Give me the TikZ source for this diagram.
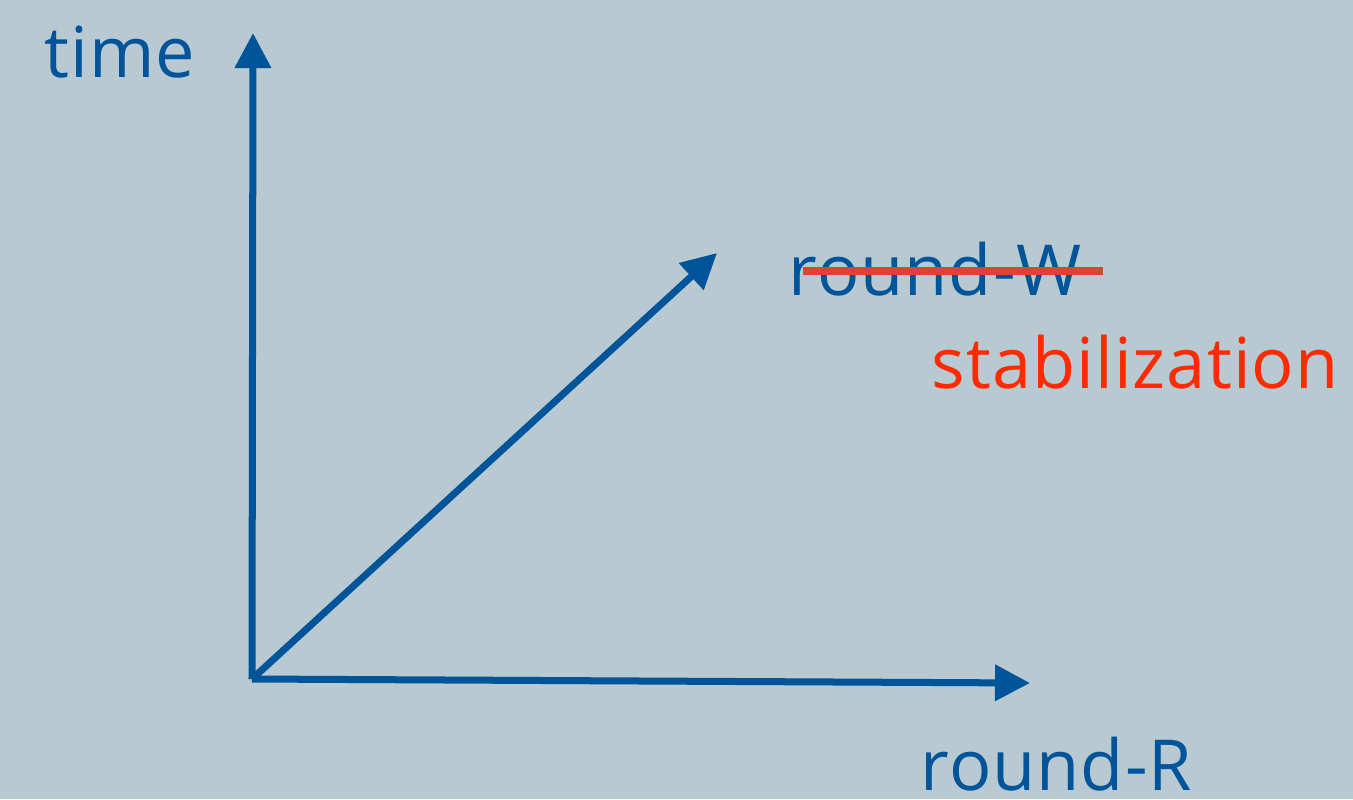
\documentclass[tikz,border=0pt]{standalone}
\usepackage{fontspec}
\setmainfont{Open Sans}[LetterSpace=1.5]
\usetikzlibrary{arrows.meta}
\definecolor{bgc}{HTML}{B8C9D1}
\definecolor{axblue}{HTML}{00559A}
\definecolor{redtxt}{HTML}{FF2A00}
\definecolor{strike}{HTML}{DB4433}
\begin{document}
\begin{tikzpicture}[x=0.01cm,y=-0.01cm,
  axis/.style={draw=axblue,line width=0.07cm,-{Triangle[length=0.35cm,width=0.35cm]}},
  lbl/.style={anchor=base west,inner sep=0pt,text depth=0pt,font=\fontsize{20}{24}\selectfont}]
\fill[bgc] (0,0) rectangle (1353,799);
\useasboundingbox (0,0) rectangle (1353,799);
\coordinate (O) at (252,679);
\coordinate (T) at (253,33);
\coordinate (R) at (1030,683);
\coordinate (D) at (717,253);
\draw[axis] (O) -- (T);
\draw[axis] (O) -- (R);
\draw[axis] (O) -- (D);
\node[lbl,text=axblue] (time) at (44,77) {time};
\node[lbl,text=axblue] (rr) at (920,790) {round-R};
\node[lbl,text=axblue] (rw) at (788,295) {round-W};
\node[lbl,text=redtxt] (st) at (931,388) {stabilization};
\coordinate (s1) at (803,271);
\coordinate (s2) at (1103,271);
\draw[strike,line width=0.08cm] (s1) -- (s2);
\end{tikzpicture}
\end{document}
